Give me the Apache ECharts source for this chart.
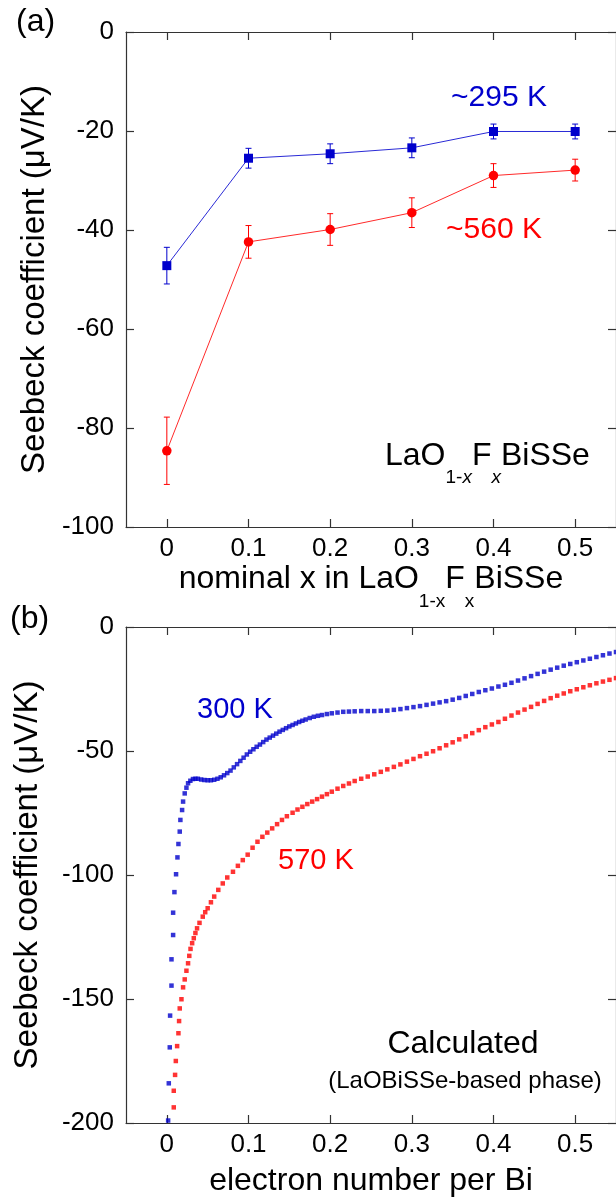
<!DOCTYPE html>
<html>
<head>
<meta charset="utf-8">
<script src="https://cdn.jsdelivr.net/npm/echarts@6/dist/echarts.min.js"></script>
<style>
html, body { margin: 0; padding: 0; background: #fff; }
#chart { width: 616px; height: 1203px; }
</style>
</head>
<body>
<div id="chart"></div>
<script>
// (a) measured Seebeck coefficient vs nominal F content
const nominalX = [0, 0.1, 0.2, 0.3, 0.4, 0.5];
const seebeck295 = [-47.2, -25.5, -24.6, -23.4, -20.1, -20.1];
const err295 = [3.7, 2.0, 2.0, 2.0, 1.5, 1.5];
const seebeck560 = [-84.6, -42.4, -39.9, -36.5, -29.0, -27.9];
const err560 = [6.8, 3.3, 3.2, 3.0, 2.4, 2.2];

// shared x tick values
const xTickValues = [0, 0.1, 0.2, 0.3, 0.4, 0.5];

// (b) calculated Seebeck coefficient vs electron number per Bi: [x, S]
const calc300K = [
  [0.0016,-199],[0.0024,-184],[0.0036,-169.5],[0.004,-156.7],[0.0057,-144.6],[0.0057,-134],
  [0.0077,-124.2],[0.0077,-115.2],[0.0093,-106.9],[0.0113,-99.7],[0.013,-92.9],[0.0142,-87.5],
  [0.0158,-82.5],[0.0166,-77.8],[0.0187,-73.8],[0.0199,-70.4],[0.0219,-67.1],[0.024,-64.8],
  [0.026,-63.0],[0.0288,-62.0],[0.032,-61.3],[0.035,-61.2],[0.038,-61.2],[0.042,-61.5],
  [0.046,-61.7],[0.050,-61.8],[0.054,-61.8],[0.058,-61.6],[0.062,-61.2],[0.066,-60.6],
  [0.070,-59.8],[0.074,-58.9],[0.078,-57.9],[0.082,-56.6],[0.086,-55.3],[0.090,-54.0],
  [0.094,-52.7],[0.098,-51.4],[0.102,-50.3],[0.106,-49.3],[0.110,-48.3],[0.114,-47.4],
  [0.118,-46.4],[0.122,-45.4],[0.126,-44.6],[0.130,-43.8],[0.134,-43.0],[0.138,-42.2],
  [0.142,-41.5],[0.146,-40.8],[0.150,-40.1],[0.154,-39.5],[0.158,-38.9],[0.162,-38.3],
  [0.166,-37.8],[0.170,-37.3],[0.175,-36.7],[0.180,-36.2],[0.185,-35.8],[0.190,-35.5],
  [0.196,-35.1],[0.202,-34.8],[0.209,-34.5],[0.216,-34.2],[0.223,-34.1],[0.230,-34.0],
  [0.238,-33.9],[0.246,-33.9],[0.254,-33.9],[0.262,-33.8],[0.270,-33.7],[0.278,-33.4],
  [0.286,-33.1],[0.294,-32.7],[0.302,-32.3],[0.310,-31.9],[0.318,-31.4],[0.326,-30.9],
  [0.334,-30.4],[0.342,-29.9],[0.350,-29.3],[0.358,-28.6],[0.366,-27.8],[0.374,-27.0],
  [0.382,-26.2],[0.390,-25.5],[0.398,-24.8],[0.406,-24.0],[0.414,-23.3],[0.422,-22.5],
  [0.430,-21.6],[0.438,-20.7],[0.446,-19.8],[0.454,-18.9],[0.462,-18.0],[0.470,-17.2],
  [0.478,-16.4],[0.486,-15.6],[0.494,-14.9],[0.502,-14.2],[0.510,-13.5],[0.518,-12.8],
  [0.526,-12.1],[0.534,-11.4],[0.542,-10.7],[0.550,-10.1]
];
const calc570K = [
  [0.0085,-193.7],[0.0085,-187.0],[0.0101,-180.6],[0.011,-175.0],[0.0126,-169.0],[0.0142,-163.8],
  [0.015,-158.9],[0.0158,-153.8],[0.0179,-150.1],[0.0199,-145.3],[0.0219,-142.1],[0.024,-138.6],
  [0.026,-135.6],[0.0275,-132.6],[0.029,-129.8],[0.031,-127.5],[0.033,-125.5],[0.035,-123.4],
  [0.037,-121.5],[0.040,-119.3],[0.044,-116.8],[0.047,-115.0],[0.050,-113.4],[0.054,-111.0],
  [0.058,-108.7],[0.063,-106.0],[0.0685,-103.4],[0.074,-101.0],[0.081,-98.7],[0.087,-96.3],
  [0.093,-94.0],[0.099,-91.8],[0.105,-89.0],[0.111,-86.6],[0.117,-84.6],[0.123,-82.9],
  [0.129,-81.2],[0.135,-79.5],[0.141,-77.8],[0.147,-76.3],[0.154,-74.9],[0.160,-73.6],
  [0.166,-72.5],[0.172,-71.4],[0.178,-70.4],[0.184,-69.4],[0.190,-68.4],[0.196,-67.4],
  [0.202,-66.4],[0.209,-65.2],[0.216,-64.1],[0.223,-63.1],[0.230,-62.1],[0.238,-61.2],
  [0.246,-60.3],[0.254,-59.4],[0.262,-58.4],[0.270,-57.4],[0.278,-56.4],[0.286,-55.4],
  [0.294,-54.3],[0.302,-53.2],[0.310,-52.1],[0.318,-51.1],[0.326,-50.1],[0.334,-48.9],
  [0.342,-47.7],[0.350,-46.5],[0.358,-45.3],[0.366,-44.1],[0.374,-42.8],[0.382,-41.6],
  [0.390,-40.4],[0.398,-39.3],[0.406,-38.3],[0.414,-37.0],[0.422,-35.7],[0.430,-34.5],
  [0.438,-33.3],[0.446,-32.2],[0.454,-31.0],[0.462,-29.8],[0.470,-28.7],[0.478,-27.7],
  [0.486,-26.8],[0.494,-25.9],[0.502,-25.1],[0.510,-24.3],[0.518,-23.5],[0.526,-22.7],
  [0.534,-22.0],[0.542,-21.3],[0.550,-20.6]
];

const FONT = '"Liberation Sans", Arial, sans-serif';
const BLUE = '#0000cc';
const RED = '#ff0000';
const AXIS_COLOR = '#333';

const chart = echarts.init(document.getElementById('chart'), null, { renderer: 'canvas' });

function errorData(xs, ys, es) {
  return xs.map((x, i) => [x, ys[i] - es[i], ys[i] + es[i]]);
}

function errorBarRenderer(color) {
  return function (params, api) {
    const x = api.value(0);
    const top = api.coord([x, api.value(2)]);
    const bot = api.coord([x, api.value(1)]);
    const cap = 3;
    const style = { stroke: color, lineWidth: 1 };
    return {
      type: 'group',
      children: [
        { type: 'line', shape: { x1: top[0], y1: top[1], x2: bot[0], y2: bot[1] }, style },
        { type: 'line', shape: { x1: top[0] - cap, y1: top[1], x2: top[0] + cap, y2: top[1] }, style },
        { type: 'line', shape: { x1: bot[0] - cap, y1: bot[1], x2: bot[0] + cap, y2: bot[1] }, style }
      ]
    };
  };
}

const tickStyle = { inside: true, length: 8, lineStyle: { color: AXIS_COLOR, width: 1.2 } };
const lineStyle = { show: true, onZero: false, lineStyle: { color: AXIS_COLOR, width: 1.2 } };
const labelStyle = { color: '#000', fontSize: 26, fontFamily: FONT };

function xAxes(gridIndex, name, nameGap, nameTextStyle) {
  return [
    {
      type: 'value', gridIndex, position: 'bottom', min: -0.05, max: 0.55,
      axisLine: lineStyle,
      axisTick: Object.assign({ customValues: xTickValues }, tickStyle),
      axisLabel: Object.assign({ customValues: xTickValues, margin: 9,
        formatter: v => String(v) }, labelStyle),
      splitLine: { show: false },
      name, nameLocation: 'middle', nameGap, nameTextStyle
    },
    {
      type: 'value', gridIndex, position: 'top', min: -0.05, max: 0.55,
      axisLine: lineStyle,
      axisTick: Object.assign({ customValues: xTickValues }, tickStyle),
      axisLabel: { show: false },
      splitLine: { show: false }
    }
  ];
}

function yAxes(gridIndex, min, interval, nameGap) {
  return [
    {
      type: 'value', gridIndex, position: 'left', min, max: 0, interval,
      axisLine: lineStyle, axisTick: tickStyle,
      axisLabel: Object.assign({ margin: 12 }, labelStyle),
      splitLine: { show: false },
      name: 'Seebeck coefficient (μV/K)', nameLocation: 'middle', nameGap,
      nameTextStyle: { color: '#000', fontSize: 33, fontFamily: FONT }
    },
    {
      type: 'value', gridIndex, position: 'right', min, max: 0, interval,
      axisLine: lineStyle, axisTick: tickStyle,
      axisLabel: { show: false }, splitLine: { show: false }
    }
  ];
}

const subRich = {
  m: { fontSize: 32, fontFamily: FONT, color: '#000' },
  s: { fontSize: 19, fontFamily: FONT, color: '#000', padding: [44, 0, 0, 0] }
};

const option = {
  animation: false,
  backgroundColor: '#fff',
  grid: [
    { left: 126, top: 32, width: 493, height: 495 },
    { left: 126, top: 627, width: 493, height: 496 }
  ],
  xAxis: [
    ...xAxes(0, '{m|nominal x in LaO}{s|1-x}{m|F}{s|x}{m|BiSSe}', 21,
      { fontSize: 32, fontFamily: FONT, color: '#000', rich: subRich }),
    ...xAxes(1, 'electron number per Bi', 42,
      { fontSize: 32, fontFamily: FONT, color: '#000' })
  ],
  yAxis: [
    ...yAxes(0, -100, 20, 69),
    ...yAxes(1, -200, 50, 82)
  ],
  series: [
    {
      type: 'custom', xAxisIndex: 0, yAxisIndex: 0, z: 2,
      renderItem: errorBarRenderer(BLUE), encode: { x: 0, y: [1, 2] },
      data: errorData(nominalX, seebeck295, err295)
    },
    {
      type: 'custom', xAxisIndex: 0, yAxisIndex: 0, z: 2,
      renderItem: errorBarRenderer(RED), encode: { x: 0, y: [1, 2] },
      data: errorData(nominalX, seebeck560, err560)
    },
    {
      name: '~295 K', type: 'line', xAxisIndex: 0, yAxisIndex: 0, z: 3,
      data: nominalX.map((x, i) => [x, seebeck295[i]]),
      symbol: 'rect', symbolSize: 9,
      itemStyle: { color: BLUE },
      lineStyle: { color: '#2a2ad6', width: 1 }
    },
    {
      name: '~560 K', type: 'line', xAxisIndex: 0, yAxisIndex: 0, z: 3,
      data: nominalX.map((x, i) => [x, seebeck560[i]]),
      symbol: 'circle', symbolSize: 9.5,
      itemStyle: { color: RED },
      lineStyle: { color: '#ff2a2a', width: 1 }
    },
    {
      name: '300 K', type: 'scatter', xAxisIndex: 2, yAxisIndex: 2,
      data: calc300K, symbol: 'rect', symbolSize: 4.5,
      itemStyle: { color: BLUE }
    },
    {
      name: '570 K', type: 'scatter', xAxisIndex: 2, yAxisIndex: 2,
      data: calc570K, symbol: 'rect', symbolSize: 4.5,
      itemStyle: { color: RED }
    }
  ],
  graphic: [
    { type: 'text', left: 16, top: 6, style: { text: '(a)', fontSize: 32, fontFamily: FONT, fill: '#000' } },
    { type: 'text', left: 10, top: 603, style: { text: '(b)', fontSize: 32, fontFamily: FONT, fill: '#000' } },
    { type: 'text', x: 499, y: 98, style: { text: '~295 K', fontSize: 30, fontFamily: FONT, fill: BLUE,
        align: 'center', verticalAlign: 'middle' } },
    { type: 'text', x: 494, y: 230, style: { text: '~560 K', fontSize: 30, fontFamily: FONT, fill: RED,
        align: 'center', verticalAlign: 'middle' } },
    { type: 'text', x: 385, y: 456, style: {
        text: '{m|LaO}{s|1-}{si|x}{m|F}{si|x}{m|BiSSe}',
        align: 'left', verticalAlign: 'middle',
        rich: {
          m: { fontSize: 32, fontFamily: FONT, fill: '#000' },
          s: { fontSize: 19, fontFamily: FONT, fill: '#000', padding: [44, 0, 0, 0] },
          si: { fontSize: 19, fontFamily: FONT, fontStyle: 'italic', fill: '#000', padding: [44, 0, 0, 0] }
        } } },
    { type: 'text', x: 235, y: 710, style: { text: '300 K', fontSize: 29, fontFamily: FONT, fill: BLUE,
        align: 'center', verticalAlign: 'middle' } },
    { type: 'text', x: 316, y: 861, style: { text: '570 K', fontSize: 29, fontFamily: FONT, fill: RED,
        align: 'center', verticalAlign: 'middle' } },
    { type: 'text', x: 463, y: 1044, style: { text: 'Calculated', fontSize: 32, fontFamily: FONT, fill: '#000',
        align: 'center', verticalAlign: 'middle' } },
    { type: 'text', x: 465, y: 1081, style: { text: '(LaOBiSSe-based phase)', fontSize: 24, fontFamily: FONT, fill: '#000',
        align: 'center', verticalAlign: 'middle' } }
  ]
};

chart.setOption(option);
</script>
</body>
</html>
